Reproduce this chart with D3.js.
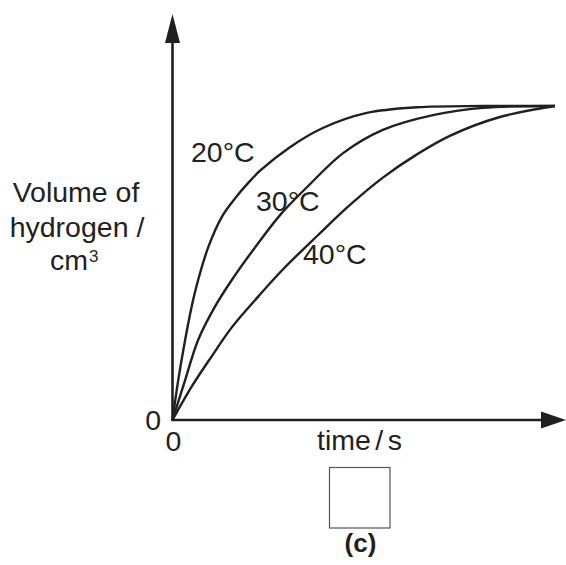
<!DOCTYPE html>
<html>
<head>
<meta charset="utf-8">
<script src="https://cdn.jsdelivr.net/npm/d3@7"></script>
<style>
  body { margin: 0; background: #fff; }
  text { font-family: "Liberation Sans", Arial, sans-serif; fill: #231f20; }
</style>
</head>
<body>
<div id="chart"></div>
<script>
// time (0-100, end point of the curves = 100) and volume (0-100, plateau = 100)
var times20 = [0, 1.5, 3.3, 5.0, 6.7, 9.4, 12.9, 16.3, 19.8, 22.9, 30.7, 39.3, 50.8, 63.9, 81, 100];
var vols20  = [0, 12.7, 25.5, 36.1, 44.6, 55.2, 64.7, 70.5, 75.5, 79.4, 86.9, 93.0, 97.8, 99.6, 100, 100];

var times30 = [0, 3.3, 6.7, 11.1, 15.5, 22.4, 28.5, 35.2, 44.6, 55, 68.1, 81.2, 100];
var vols30  = [0, 12.7, 25.5, 36.1, 44.6, 56.3, 65.8, 74.2, 85, 92.4, 97.1, 99.4, 100];

var times40 = [0, 5.0, 10.2, 15.5, 22.4, 28.9, 37.8, 46.4, 55, 63.9, 72.5, 85.6, 100];
var vols40  = [0, 10.6, 20.2, 29.5, 39.3, 48.0, 58.6, 68.5, 77.2, 84.6, 90.5, 96.5, 100];

var seriesNames = ["20°C", "30°C", "40°C"];
var yLabelLines = ["Volume of", "hydrogen /", "cm", "3"];
var xLabel = "time / s";
var panelLabel = "(c)";

var W = 566, H = 565;
var x0 = 172.5, y0 = 420;

var svg = d3.select("#chart").append("svg")
    .attr("width", W)
    .attr("height", H);

var x = d3.scaleLinear().domain([0, 100]).range([x0, 555]);
var y = d3.scaleLinear().domain([0, 100]).range([y0, 106]);

var ink = "#231f20";

// axes with arrow heads
svg.append("line")
    .attr("x1", x0).attr("y1", y0).attr("x2", x0).attr("y2", 40)
    .attr("stroke", ink).attr("stroke-width", 2.6);
svg.append("line")
    .attr("x1", x0 - 1.3).attr("y1", y0).attr("x2", 545).attr("y2", y0)
    .attr("stroke", ink).attr("stroke-width", 2.6);

svg.append("path")
    .attr("d", "M" + x0 + ",14 L" + (x0 + 7.5) + ",43 L" + (x0 - 7.5) + ",43 Z")
    .attr("fill", ink);
svg.append("path")
    .attr("d", "M566," + y0 + " L541," + (y0 - 8.5) + " L541," + (y0 + 8.5) + " Z")
    .attr("fill", ink);

// curves
var line = d3.line()
    .x(function(d) { return x(d[0]); })
    .y(function(d) { return y(d[1]); })
    .curve(d3.curveCatmullRom.alpha(0.5));

var series = [
    d3.zip(times20, vols20),
    d3.zip(times30, vols30),
    d3.zip(times40, vols40)
];

svg.selectAll("path.curve")
    .data(series)
    .enter()
    .append("path")
    .attr("class", "curve")
    .attr("d", line)
    .attr("fill", "none")
    .attr("stroke", ink)
    .attr("stroke-width", 2.4);

// curve labels
var labelPos = [[191, 162], [256, 211], [303, 264]];
svg.selectAll("text.lab")
    .data(seriesNames)
    .enter()
    .append("text")
    .attr("class", "lab")
    .attr("x", function(d, i) { return labelPos[i][0]; })
    .attr("y", function(d, i) { return labelPos[i][1]; })
    .style("font-size", "28.5px")
    .text(function(d) { return d; });

// zeros
svg.append("text")
    .attr("x", 161).attr("y", 430)
    .attr("text-anchor", "end")
    .style("font-size", "28.5px")
    .text("0");
svg.append("text")
    .attr("x", 173.5).attr("y", 451)
    .attr("text-anchor", "middle")
    .style("font-size", "28.5px")
    .text("0");

// y axis title
var yt = svg.append("text")
    .attr("text-anchor", "middle")
    .style("font-size", "28.5px");
yt.append("tspan").attr("x", 76).attr("y", 202).text(yLabelLines[0]);
yt.append("tspan").attr("x", 77).attr("y", 237).text(yLabelLines[1]);

svg.append("text")
    .attr("x", 50).attr("y", 270)
    .style("font-size", "28.5px")
    .text(yLabelLines[2])
    .append("tspan")
    .attr("dy", -8)
    .attr("dx", 1)
    .style("font-size", "17px")
    .text(yLabelLines[3]);

// x axis title
svg.append("text")
    .attr("x", 359.5).attr("y", 450)
    .attr("text-anchor", "middle")
    .style("font-size", "28.5px")
    .style("word-spacing", "-3.5px")
    .text(xLabel);

// answer box
svg.append("rect")
    .attr("x", 329.5).attr("y", 467.5)
    .attr("width", 60.5).attr("height", 60.5)
    .attr("fill", "none")
    .attr("stroke", "#555")
    .attr("stroke-width", 1.2);

svg.append("text")
    .attr("x", 360.5).attr("y", 552)
    .attr("text-anchor", "middle")
    .style("font-size", "26px")
    .style("font-weight", "bold")
    .text(panelLabel);
</script>
</body>
</html>
